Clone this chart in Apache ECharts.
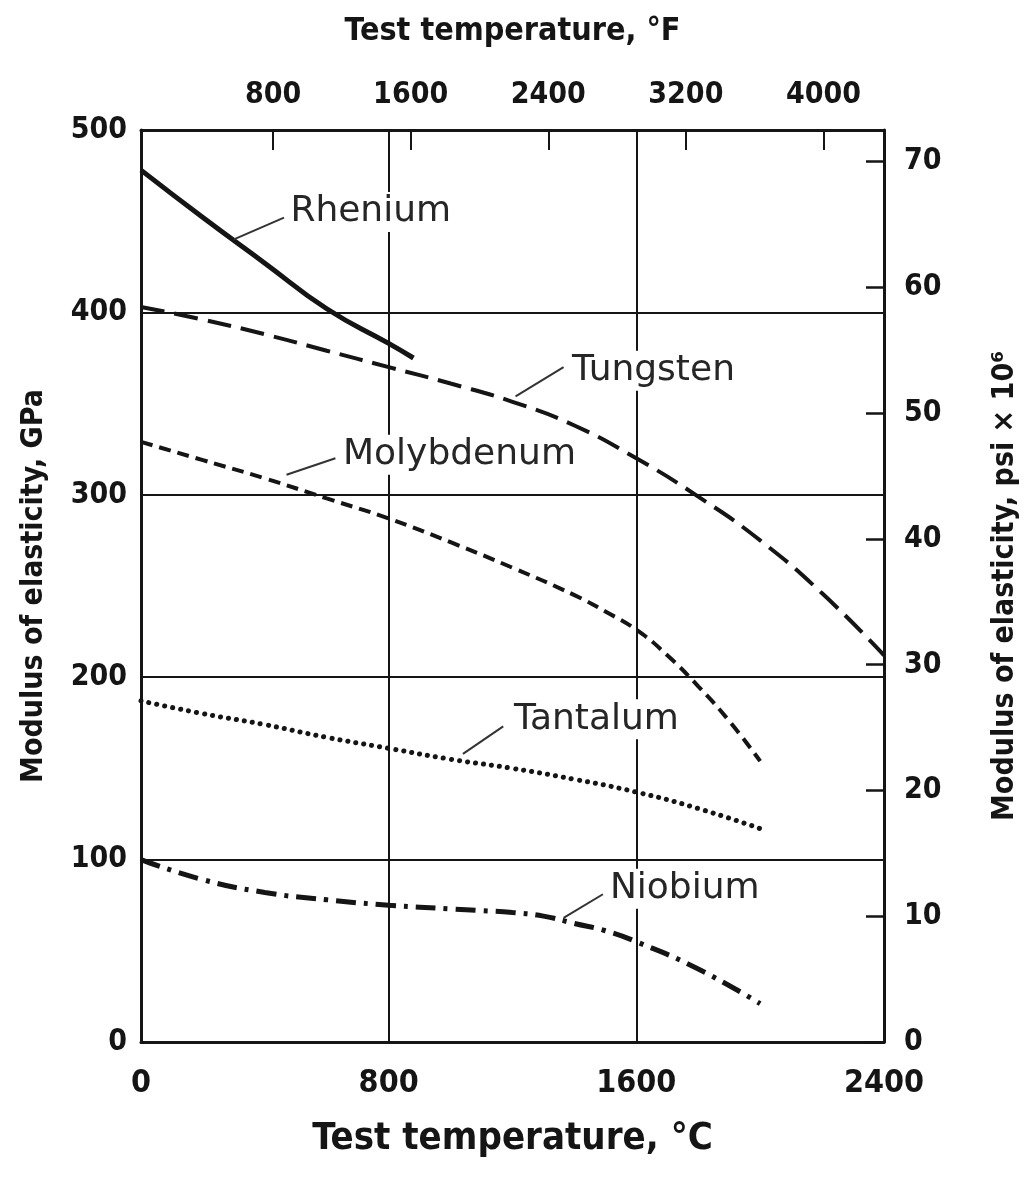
<!DOCTYPE html>
<html>
<head>
<meta charset="utf-8">
<title>Modulus of elasticity vs test temperature</title>
<script src="https://cdn.jsdelivr.net/npm/echarts@6/dist/echarts.min.js"></script>
<style>
  html, body { margin: 0; padding: 0; background: #fff; }
  #chart { width: 1025px; height: 1181px; }
</style>
</head>
<body>
<div id="chart"></div>
<script>
// temperatures in °C, modulus in GPa
var rheniumT = [0, 200, 400, 600, 800, 880];
var rheniumE = [478, 452, 427, 402, 383, 375];

var tungstenT = [0, 200, 400, 600, 800, 1000, 1200, 1400, 1600, 1800, 2000, 2200, 2400];
var tungstenE = [403, 396, 388, 379, 370, 361, 351, 338, 320, 299, 275, 246, 212];

var molyT = [0, 200, 400, 600, 800, 1000, 1200, 1400, 1500, 1600, 1700, 1800, 1900, 2000];
var molyE = [329, 319, 309, 298, 287, 274, 260, 245, 236, 226, 212, 195, 176, 154];

var tantalumT = [0, 200, 400, 600, 800, 1000, 1200, 1400, 1600, 1800, 2000];
var tantalumE = [187, 180, 174, 167, 161, 155, 150, 144, 137, 128, 117];

var niobiumT = [0, 200, 400, 600, 800, 1000, 1100, 1200, 1300, 1400, 1500, 1600, 1800, 2000];
var niobiumE = [100, 89, 82, 78, 75, 73, 72, 71, 69, 65, 61, 55, 40, 21];

// axis ticks
var celsiusTicks = [0, 800, 1600, 2400];
var fahrenheitTicks = [800, 1600, 2400, 3200, 4000];
var gpaTicks = [0, 100, 200, 300, 400, 500];
var psiTicks = [0, 10, 20, 30, 40, 50, 60, 70];

var GPA_PER_MPSI = 6.895;

// curve names, where their text sits and where the leader meets the curve
var curveNames = ['Rhenium', 'Tungsten', 'Molybdenum', 'Tantalum', 'Niobium'];
var nameAt = [[468, 455], [1378, 368], [638, 322], [1190, 177], [1500, 84]];
var leaderFrom = [[462, 452], [1365, 370], [628, 320], [1170, 173], [1492, 81]];
var leaderTo = [[300, 440], [1210, 354], [470, 311], [1040, 158], [1365, 68]];

var FONT = "'Liberation Sans Narrow', 'DejaVu Sans Condensed', 'Liberation Sans', sans-serif";
var LABEL_FONT = "'DejaVu Sans', sans-serif";
var INK = '#151515';

function zip(t, e) {
  return t.map(function (v, i) { return [v, e[i]]; });
}
function fToC(f) { return (f - 32) / 1.8; }

function curve(idx, data, lineType, width, cap) {
  return {
    name: curveNames[idx],
    type: 'line',
    data: data,
    xAxisIndex: 0,
    yAxisIndex: 0,
    smooth: 0.5,
    showSymbol: false,
    silent: true,
    lineStyle: { color: INK, width: width, type: lineType, cap: cap || 'butt' },
    markPoint: {
      symbol: 'circle',
      symbolSize: 1,
      itemStyle: { color: 'rgba(0,0,0,0)' },
      label: {
        show: true,
        position: 'right',
        distance: 0,
        formatter: curveNames[idx],
        fontFamily: LABEL_FONT,
        fontSize: 36,
        color: '#262626',
        backgroundColor: '#fff',
        padding: [2, 4, 2, 4]
      },
      data: [{ coord: nameAt[idx] }]
    },
    markLine: {
      silent: true,
      symbol: ['none', 'none'],
      label: { show: false },
      lineStyle: { color: '#333', width: 2, type: 'solid' },
      data: [[{ coord: leaderFrom[idx] }, { coord: leaderTo[idx] }]]
    }
  };
}

var chart = echarts.init(document.getElementById('chart'));

var option = {
  backgroundColor: '#fff',
  animation: false,
  grid: { left: 141, right: 141, top: 130, bottom: 139, outerBoundsMode: 'none' },
  xAxis: [
    {
      type: 'value',
      position: 'bottom',
      min: 0,
      max: 2400,
      interval: 800,
      name: 'Test temperature, °C',
      nameLocation: 'middle',
      nameGap: 78,
      nameTextStyle: { fontFamily: FONT, fontWeight: 'bold', fontSize: 38, color: INK },
      axisLine: { onZero: false, lineStyle: { color: INK, width: 3 } },
      axisTick: { show: false },
      axisLabel: {
        customValues: celsiusTicks,
        margin: 26,
        formatter: function (v) { return String(v); },
        fontFamily: FONT, fontWeight: 'bold', fontSize: 32, color: INK
      },
      splitLine: { show: true, lineStyle: { color: INK, width: 2 } }
    },
    {
      type: 'value',
      position: 'top',
      min: 0,
      max: 2400,
      name: 'Test temperature, °F',
      nameLocation: 'middle',
      nameGap: 82,
      nameTextStyle: { fontFamily: FONT, fontWeight: 'bold', fontSize: 32, color: INK },
      axisLine: { show: true, onZero: false, lineStyle: { color: INK, width: 3 } },
      axisTick: {
        show: true,
        inside: true,
        length: 20,
        customValues: fahrenheitTicks.map(fToC),
        lineStyle: { color: INK, width: 2 }
      },
      axisLabel: {
        customValues: fahrenheitTicks.map(fToC),
        margin: 20,
        formatter: function (v) { return String(Math.round(v * 1.8 + 32)); },
        fontFamily: FONT, fontWeight: 'bold', fontSize: 30, color: INK
      },
      splitLine: { show: false }
    }
  ],
  yAxis: [
    {
      type: 'value',
      position: 'left',
      min: 0,
      max: 500,
      interval: 100,
      name: 'Modulus of elasticity, GPa',
      nameLocation: 'middle',
      nameRotate: 90,
      nameGap: 92,
      nameTextStyle: { fontFamily: FONT, fontWeight: 'bold', fontSize: 30, color: INK },
      axisLine: { show: true, onZero: false, lineStyle: { color: INK, width: 3 } },
      axisTick: { show: false },
      axisLabel: {
        customValues: gpaTicks,
        margin: 14,
        fontFamily: FONT, fontWeight: 'bold', fontSize: 30, color: INK
      },
      splitLine: { show: true, lineStyle: { color: INK, width: 2 } }
    },
    {
      type: 'value',
      position: 'right',
      min: 0,
      max: 500 / GPA_PER_MPSI,
      name: 'Modulus of elasticity, psi × 10⁶',
      nameLocation: 'middle',
      nameRotate: 90,
      nameGap: 106,
      nameTextStyle: { fontFamily: FONT, fontWeight: 'bold', fontSize: 30, color: INK },
      axisLine: { show: true, onZero: false, lineStyle: { color: INK, width: 3 } },
      axisTick: {
        show: true,
        inside: true,
        length: 18,
        customValues: psiTicks,
        lineStyle: { color: INK, width: 2.5 }
      },
      axisLabel: {
        customValues: psiTicks,
        margin: 20,
        fontFamily: FONT, fontWeight: 'bold', fontSize: 30, color: INK
      },
      splitLine: { show: false }
    }
  ],
  series: [
    curve(0, zip(rheniumT, rheniumE), 'solid', 5),
    curve(1, zip(tungstenT, tungstenE), [24, 10], 4),
    curve(2, zip(molyT, molyE), [12, 7], 4),
    curve(3, zip(tantalumT, tantalumE), [0.1, 8], 5, 'round'),
    curve(4, zip(niobiumT, niobiumE), [20, 8, 4, 8], 5)
  ]
};

chart.setOption(option);
</script>
</body>
</html>
